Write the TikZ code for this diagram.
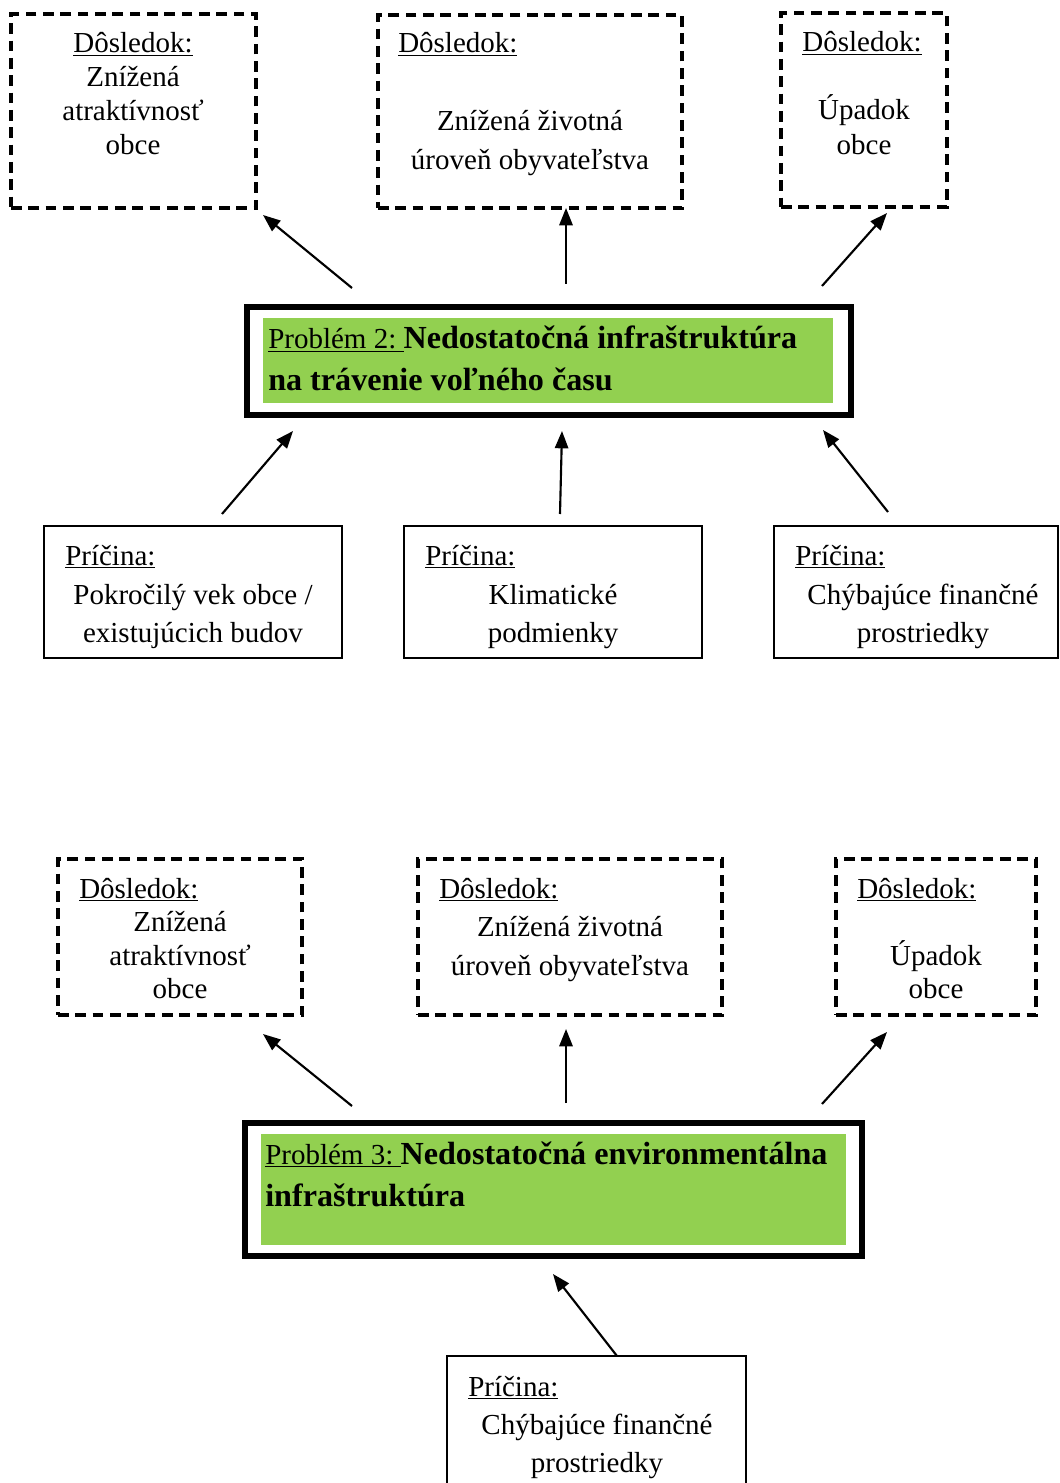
\documentclass[tikz,border=0pt]{standalone}
\usepackage{fontspec}
\setmainfont{Liberation Serif}
\usetikzlibrary{arrows.meta,fit}
\definecolor{probgreen}{HTML}{92D050}
\begin{document}
\begin{tikzpicture}[x=0.75pt,y=-0.75pt,
  dbox/.style={draw, dash pattern=on 8pt off 5pt, line width=2.6pt, inner sep=0pt},
  cbox/.style={draw, line width=1.1pt, inner sep=0pt},
  pbox/.style={draw, line width=4.8pt, inner sep=0pt},
  gbox/.style={fill=probgreen, inner sep=0pt},
  txt/.style={inner sep=0pt, font=\fontsize{21.75}{26}\selectfont},
  ptxt/.style={inner sep=0pt, anchor=base west, font=\fontsize{21.75}{26}\selectfont},
  arr/.style={-{Triangle[length=13pt,width=10pt]}, line width=1.6pt}]
\useasboundingbox (0,0) rectangle (1059,1483);
\clip (0,0) rectangle (1059,1483);
\fill[white] (0,0) rectangle (1059,1483);

% ---------- Top section ----------
\node[dbox, fit={(11,14) (256,208)}] (a1) {};
\node[dbox, fit={(378,15) (682,208)}] (a2) {};
\node[dbox, fit={(781,13) (947,207)}] (a3) {};

\node[txt, anchor=base] (a1l1) at (133,53) {\underline{Dôsledok:}};
\node[txt, anchor=base] (a1l2) at (133,87) {Znížená};
\node[txt, anchor=base] (a1l3) at (133,121) {atraktívnosť};
\node[txt, anchor=base] (a1l4) at (133,155) {obce};

\node[txt, anchor=base west] (a2l1) at (398,53) {\underline{Dôsledok:}};
\node[txt, anchor=base] (a2l2) at (530,131) {Znížená životná};
\node[txt, anchor=base] (a2l3) at (530,170) {úroveň obyvateľstva};

\node[txt, anchor=base] (a3l1) at (862,52) {\underline{Dôsledok:}};
\node[txt, anchor=base] (a3l2) at (864,120) {Úpadok};
\node[txt, anchor=base] (a3l3) at (864,155) {obce};

\node[pbox, fit={(247,307) (851,415)}] (p2) {};
\node[gbox, fit={(263,318) (833,403)}] (p2g) {};
\node[ptxt] (p2l1) at (268,349) {\underline{Problém 2:\ }\bfseries\fontsize{24.1}{28}\selectfont Nedostatočná infraštruktúra};
\node[ptxt] (p2l2) at (268,391) {\bfseries\fontsize{24.1}{28}\selectfont na trávenie voľného času};

\node[cbox, fit={(44,526) (342,658)}] (b1) {};
\node[cbox, fit={(404,526) (702,658)}] (b2) {};
\node[cbox, fit={(774,526) (1058,658)}] (b3) {};

\node[txt, anchor=base west] (b1l1) at (65,565) {\underline{Príčina:}};
\node[txt, anchor=base] (b1l2) at (193,604) {Pokročilý vek obce /};
\node[txt, anchor=base] (b1l3) at (193,642) {existujúcich budov};

\node[txt, anchor=base west] (b2l1) at (425,565) {\underline{Príčina:}};
\node[txt, anchor=base] (b2l2) at (553,604) {Klimatické};
\node[txt, anchor=base] (b2l3) at (553,642) {podmienky};

\node[txt, anchor=base west] (b3l1) at (795,565) {\underline{Príčina:}};
\node[txt, anchor=base] (b3l2) at (923,604) {Chýbajúce finančné};
\node[txt, anchor=base] (b3l3) at (923,642) {prostriedky};

% arrows top section
\coordinate (e1s) at (352,288); \coordinate (e1e) at (263,215);
\coordinate (e2s) at (566,284); \coordinate (e2e) at (566,208);
\coordinate (e3s) at (822,286); \coordinate (e3e) at (887,213);
\draw[arr] (e1s) -- (e1e);
\draw[arr] (e2s) -- (e2e);
\draw[arr] (e3s) -- (e3e);

\coordinate (c1s) at (222,514); \coordinate (c1e) at (293,431);
\coordinate (c2s) at (560,514); \coordinate (c2e) at (562,431);
\coordinate (c3s) at (888,512); \coordinate (c3e) at (823,430);
\draw[arr] (c1s) -- (c1e);
\draw[arr] (c2s) -- (c2e);
\draw[arr] (c3s) -- (c3e);

% ---------- Bottom section ----------
\node[dbox, fit={(58,859) (302,1015)}] (d1) {};
\node[dbox, fit={(418,859) (722,1015)}] (d2) {};
\node[dbox, fit={(836,859) (1036,1015)}] (d3) {};

\node[txt, anchor=base west] (d1l1) at (79,898) {\underline{Dôsledok:}};
\node[txt, anchor=base] (d1l2) at (180,931) {Znížená};
\node[txt, anchor=base] (d1l3) at (180,965) {atraktívnosť};
\node[txt, anchor=base] (d1l4) at (180,998) {obce};

\node[txt, anchor=base west] (d2l1) at (439,898) {\underline{Dôsledok:}};
\node[txt, anchor=base] (d2l2) at (570,936) {Znížená životná};
\node[txt, anchor=base] (d2l3) at (570,975) {úroveň obyvateľstva};

\node[txt, anchor=base west] (d3l1) at (857,898) {\underline{Dôsledok:}};
\node[txt, anchor=base] (d3l2) at (936,965) {Úpadok};
\node[txt, anchor=base] (d3l3) at (936,998) {obce};

\node[pbox, fit={(245,1123) (862,1256)}] (p3) {};
\node[gbox, fit={(261,1134) (846,1245)}] (p3g) {};
\node[ptxt] (p3l1) at (265,1164) {\underline{Problém 3:\ }\bfseries\fontsize{24.1}{28}\selectfont Nedostatočná environmentálna};
\node[ptxt] (p3l2) at (265,1206) {\bfseries\fontsize{24.1}{28}\selectfont infraštruktúra};

\node[cbox, fit={(447,1356) (746,1500)}] (f1) {};
\node[txt, anchor=base west] (f1l1) at (468,1396) {\underline{Príčina:}};
\node[txt, anchor=base] (f1l2) at (597,1434) {Chýbajúce finančné};
\node[txt, anchor=base] (f1l3) at (597,1472) {prostriedky};

\coordinate (g1s) at (352,1106); \coordinate (g1e) at (263,1034);
\coordinate (g2s) at (566,1103); \coordinate (g2e) at (566,1029);
\coordinate (g3s) at (822,1104); \coordinate (g3e) at (887,1032);
\draw[arr] (g1s) -- (g1e);
\draw[arr] (g2s) -- (g2e);
\draw[arr] (g3s) -- (g3e);

\coordinate (h1s) at (617,1356); \coordinate (h1e) at (553,1274);
\draw[arr] (h1s) -- (h1e);
\end{tikzpicture}
\end{document}
